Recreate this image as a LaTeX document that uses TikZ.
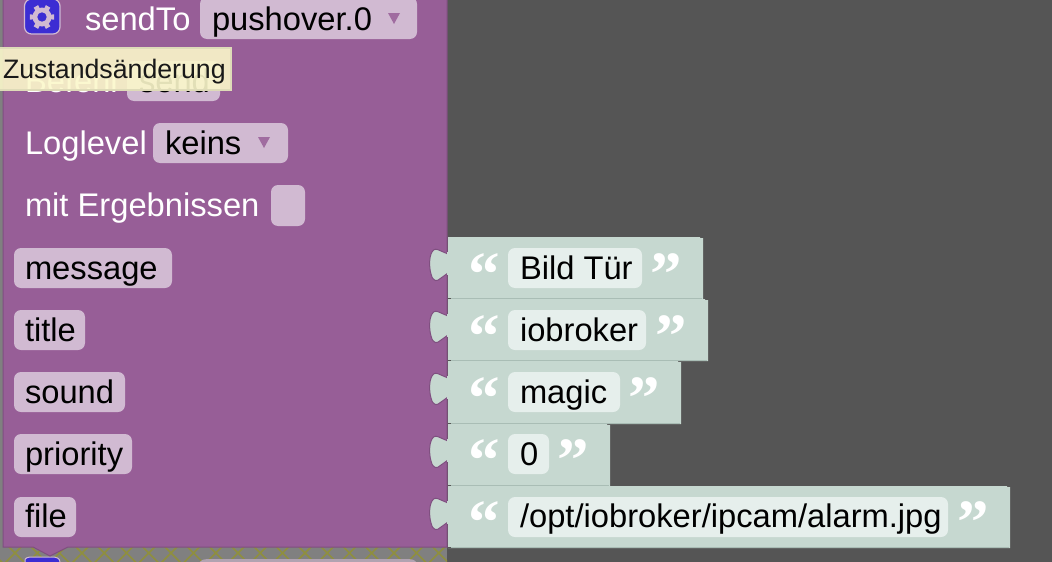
\documentclass[tikz,border=0pt]{standalone}
\usepackage{fontspec}
\setmainfont{Liberation Sans}
\newfontfamily\quotefont{Liberation Serif}
\definecolor{bgdark}{HTML}{555555}
\definecolor{bgstrip}{HTML}{808080}
\definecolor{olive}{HTML}{8F8F3E}
\definecolor{block}{HTML}{975E97}
\definecolor{blockdark}{HTML}{7F4F80}
\definecolor{field}{HTML}{D1BAD2}
\definecolor{valblock}{HTML}{C6D8D0}
\definecolor{valline}{HTML}{A9BDB5}
\definecolor{valfield}{HTML}{E6EFEC}
\definecolor{iconblue}{HTML}{3C2DD3}
\definecolor{tipfill}{HTML}{FBF8CB}
\definecolor{tipline}{HTML}{DEDBB8}
\tikzset{
  x=1pt,y=-1pt,
  every node/.style={inner sep=0pt,outer sep=0pt,font=\fontsize{32.7}{36}\selectfont},
  lab/.style={anchor=base west,text=white},
  dark/.style={anchor=base west,text=black},
  pill/.style={fill=field,rounded corners=7pt,draw=none},
  vpill/.style={fill=valfield,rounded corners=7pt,draw=none},
  tri/.style={fill=block!85!field,draw=none},
  quote/.style={anchor=base west,text=white,font=\quotefont\bfseries\fontsize{63}{63}\selectfont},
}
\newcommand{\valueblock}[3]{% top, bottom, right
  \fill[valblock] (448,#1) -- (#3-3,#1) -- (#3-3,#1+1) -- (#3,#1+1) -- (#3,#2+1) -- (448,#2+1) -- cycle;
  \draw[valline,line width=.8pt] (448,#2+.5) -- (#3-1,#2+.5);
  \draw[bgdark,line width=.8pt] (448,#2+.5) -- (451,#2+.5);
  \begin{scope}[shift={(0,#1)}]
   \fill[valblock,draw=blockdark,line width=1pt] (448,17) -- (441,14) .. controls (437,12) and (434,11) .. (432,15) .. controls (429,20) and (429,30) .. (431,37) .. controls (433,45) and (437,45) .. (441,41) -- (448,36) -- cycle;
   \fill[valblock] (447,15) rectangle (452,38);
  \end{scope}
}
\begin{document}
\begin{tikzpicture}
\useasboundingbox (0,0) rectangle (1052,562);
\fill[bgdark] (0,0) rectangle (1052,562);
% strip at the bottom
\fill[bgstrip] (0,0) rectangle (3,562);
\fill[bgstrip] (0,547) rectangle (447,562);
\begin{scope}
\clip (0,547.5) rectangle (447,562);
\foreach \i in {-1,...,21}{
  \draw[olive,line width=1.6pt] (\i*22.3+15-25,553-25) -- (\i*22.3+15+25,553+25);
  \draw[olive,line width=1.6pt] (\i*22.3+15-25,553+25) -- (\i*22.3+15+25,553-25);
}
\end{scope}
% next block peeking in
\fill[iconblue] (25,562) -- (25,560) .. controls (25,558) and (28,557) .. (32,557) -- (52,557) .. controls (56,557) and (60,558) .. (60,562) -- cycle;
\draw[field,line width=1pt] (25,562) -- (25,560) .. controls (25,558) and (28,557) .. (32,557) -- (52,557) .. controls (56,557) and (60,558) .. (60,562);
\fill[field!60!bgstrip] (200,562) .. controls (201,560) and (204,559) .. (210,559) -- (406,559) .. controls (412,559) and (415,560) .. (416,562) -- cycle;
% main block
\fill[block,draw=blockdark,line width=1pt] (3,-2) -- (447,-2) -- (447,547) -- (68,547) -- (50,556) -- (33,547) -- (3,547) -- cycle;
% value blocks
\valueblock{237}{298}{703}
\valueblock{299}{360}{708}
\valueblock{361}{423}{681}
\valueblock{424}{485}{610}
\valueblock{486}{547}{1010}
% first row: icon
\fill[iconblue,draw=field,line width=1.2pt,rounded corners=7pt] (24.5,-1) rectangle (60,34);
\foreach \a in {0,60,...,300}{
   \fill[field] ([shift={(42,17)}]\a-17:8) -- ([shift={(42,17)}]\a-12:12.5) -- ([shift={(42,17)}]\a+12:12.5) -- ([shift={(42,17)}]\a+17:8) -- cycle;
}
\fill[field,even odd rule] (42,17) circle (9.5) (42,17) circle (4.8);
\node[lab] (sendto) at (85,30) {sendTo};
\fill[pill] (200,-3) rectangle (417,39);
\node[dark] (pushover) at (212,30) {pushover.0};
\fill[tri] (388,13) -- (400,13) -- (394,24) -- cycle;
% Befehl row
\node[lab] (befehl) at (25,92) {Befehl};
\fill[pill] (127,61) rectangle (220,101);
\node[dark] (send) at (139,92) {send};
% Loglevel
\node[lab] (loglevel) at (25,154) {Loglevel};
\fill[pill] (153,123) rectangle (288,163);
\node[dark] (keins) at (165,154) {keins};
\fill[tri] (258,137) -- (270,137) -- (264,148) -- cycle;
% checkbox row
\node[lab] (ergebnis) at (25,216) {mit Ergebnissen};
\fill[pill] (271,185) rectangle (305,226);
% argument labels
\fill[pill] (14,248) rectangle (172,288);
\node[dark] (message) at (25,279) {message};
\fill[pill] (14,310) rectangle (85,350);
\node[dark] (title) at (25,341) {title};
\fill[pill] (14,372) rectangle (125,412);
\node[dark] (sound) at (25,403) {sound};
\fill[pill] (14,434) rectangle (132,474);
\node[dark] (priority) at (25,465) {priority};
\fill[pill] (14,497) rectangle (76,537);
\node[dark] (file) at (25,527) {file};
% value contents
\newcommand{\vrow}[5]{% pill-y, right of pill, text, base, closing quote x
  \fill[vpill] (508,#1) rectangle (#2,#1+40);
  \node[dark] at (520,#4) {#3};
  \node[quote] at (468.5,#4+16) {“};
  \node[quote] at (#5,#4+16) {”};
}
\vrow{248}{642}{Bild Tür}{279}{650.5}
\vrow{310}{646}{iobroker}{341}{655.5}
\vrow{372}{620}{magic}{403}{628.5}
\vrow{434}{549}{0}{465}{557.5}
\vrow{497}{948}{/opt/iobroker/ipcam/alarm.jpg}{527}{957.5}
% tooltip
\fill[tipfill,opacity=.9] (0,48) rectangle (232,90);
\draw[tipline,line width=2pt] (0,48) -- (231,48) -- (231,90) -- (0,90);
\node[anchor=base west,text=black!90,font=\fontsize{26.7}{30}\selectfont] (tip) at (3,78) {Zustandsänderung};
\end{tikzpicture}
\end{document}
